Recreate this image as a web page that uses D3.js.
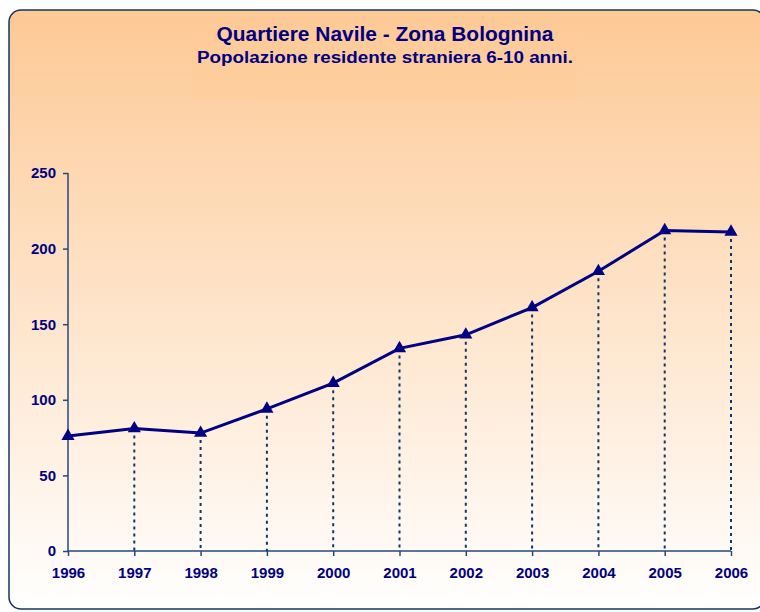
<!DOCTYPE html>
<html>
<head>
<meta charset="utf-8">
<script src="https://d3js.org/d3.v7.min.js"></script>
<style>
  body { margin: 0; background: #fff; }
  text { font-family: "Liberation Sans", Arial, sans-serif; font-weight: bold; fill: #000080; }
</style>
</head>
<body>
<svg width="760" height="612"></svg>
<script>
const years = ["1996", "1997", "1998", "1999", "2000", "2001", "2002", "2003", "2004", "2005", "2006"];
const values = [76, 81, 78, 94, 111, 134, 143, 161, 185, 212, 211];
const yTicks = [0, 50, 100, 150, 200, 250];

const svg = d3.select("svg");

const defs = svg.append("defs");
const grad = defs.append("linearGradient")
  .attr("id", "bg").attr("x1", 0).attr("y1", 0).attr("x2", 0).attr("y2", 1);
grad.append("stop").attr("offset", "0%").attr("stop-color", "#fdc995");
grad.append("stop").attr("offset", "100%").attr("stop-color", "#ffffff");

// frame
svg.append("rect")
  .attr("x", 9).attr("y", 10).attr("width", 756).attr("height", 599)
  .attr("rx", 12)
  .attr("fill", "url(#bg)")
  .attr("stroke", "#143463").attr("stroke-width", 1.5);

// title box
svg.append("rect")
  .attr("x", 192).attr("y", 22).attr("width", 385).attr("height", 78)
  .attr("fill", "#ffcc99").attr("opacity", 0.55);

svg.append("text").attr("x", 385).attr("y", 41)
  .attr("text-anchor", "middle").attr("font-size", 19.5)
  .attr("textLength", 337).attr("lengthAdjust", "spacingAndGlyphs")
  .text("Quartiere Navile - Zona Bolognina");
svg.append("text").attr("x", 385).attr("y", 63)
  .attr("text-anchor", "middle").attr("font-size", 16)
  .attr("textLength", 376).attr("lengthAdjust", "spacingAndGlyphs")
  .text("Popolazione residente straniera 6-10 anni.");

const x = d3.scalePoint().domain(years).range([68, 731]);
const y = d3.scaleLinear().domain([0, 250]).range([551, 173]);

const axisColor = "#244a7a";

const yAxis = svg.append("g")
  .attr("transform", "translate(68,0)")
  .call(d3.axisLeft(y).tickValues(yTicks).tickSize(5).tickPadding(7));
const xAxis = svg.append("g")
  .attr("transform", "translate(0,551)")
  .call(d3.axisBottom(x).tickSize(5).tickPadding(11));

[yAxis, xAxis].forEach(g => {
  g.select(".domain").attr("stroke", axisColor).attr("stroke-width", 1.5);
  g.selectAll(".tick line").attr("stroke", axisColor).attr("stroke-width", 1.5);
  g.selectAll("text").attr("font-size", 15).attr("fill", "#000080")
    .attr("font-family", "Liberation Sans, Arial, sans-serif").attr("font-weight", "bold");
});
xAxis.select(".domain").attr("d", "M68,0H731");
yAxis.select(".domain").attr("d", "M0,173V551");

// drop lines
svg.append("g").selectAll("line")
  .data(values.map((v, i) => ({ year: years[i], v })).slice(1))
  .join("line")
  .attr("x1", d => x(d.year)).attr("x2", d => x(d.year))
  .attr("y1", d => y(d.v)).attr("y2", y(0))
  .attr("stroke", "#0d3766").attr("stroke-width", 2)
  .attr("stroke-dasharray", "3,4");

const pts = values.map((v, i) => [x(years[i]), y(v)]);

svg.append("path")
  .attr("d", d3.line()(pts))
  .attr("fill", "none")
  .attr("stroke", "#000080").attr("stroke-width", 3);

svg.append("g").selectAll("path")
  .data(pts)
  .join("path")
  .attr("transform", d => `translate(${d[0]},${d[1]})`)
  .attr("d", d3.symbol(d3.symbolTriangle, 75)())
  .attr("fill", "#000080");
</script>
</body>
</html>
